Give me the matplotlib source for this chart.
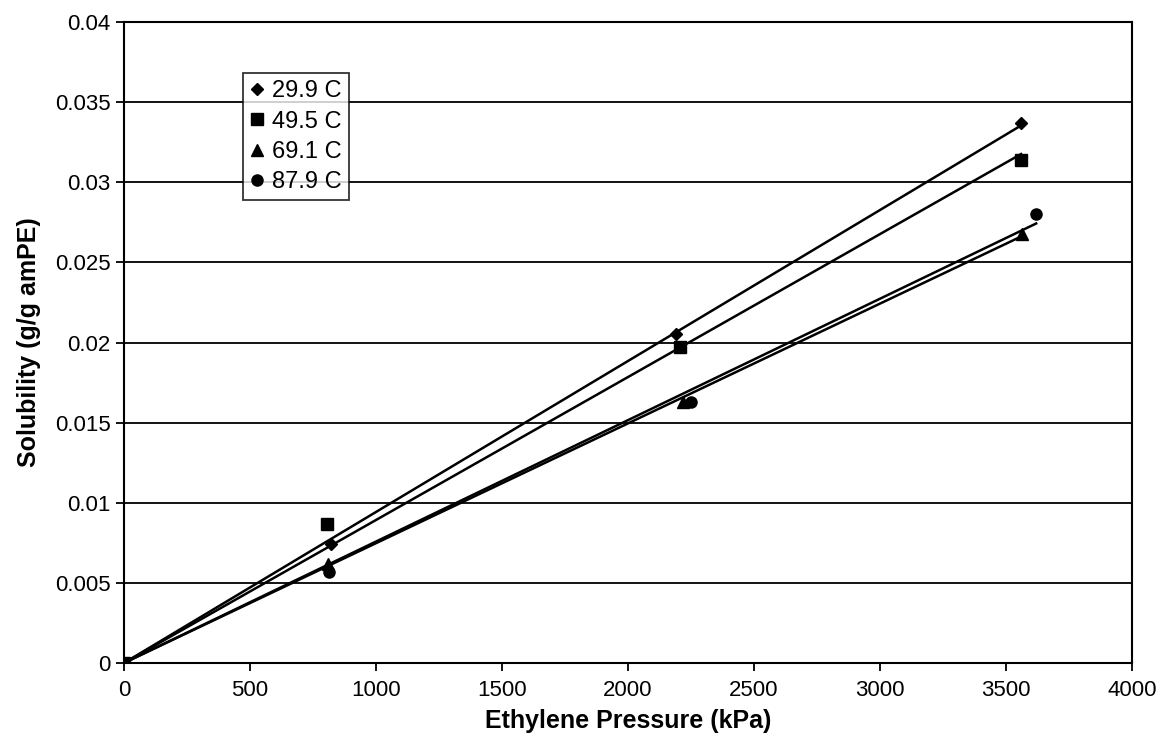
import numpy as np
import matplotlib
matplotlib.use("Agg")
import matplotlib.pyplot as plt

plt.rcParams['font.family'] = ['Liberation Sans', 'DejaVu Sans']

# solubility of ethylene in amorphous PE at four temperatures
labels = ["29.9 C", "49.5 C", "69.1 C", "87.9 C"]
markers = ["D", "s", "^", "o"]
msizes = [6, 8, 8, 8]

p_299 = [0, 820, 2190, 3560]
s_299 = [0, 0.0074, 0.0205, 0.0337]
p_495 = [0, 805, 2205, 3560]
s_495 = [0, 0.0087, 0.0197, 0.0314]
p_691 = [0, 810, 2220, 3565]
s_691 = [0, 0.0062, 0.0163, 0.0268]
p_879 = [0, 815, 2250, 3620]
s_879 = [0, 0.0057, 0.0163, 0.0280]

pressures = [p_299, p_495, p_691, p_879]
solubility = [s_299, s_495, s_691, s_879]

fig = plt.figure(figsize=(11.66, 7.54), dpi=100)
ax = fig.add_axes([0.1063, 0.1207, 0.8645, 0.8501])

for p, s, m, ms, lab in zip(pressures, solubility, markers, msizes, labels):
    p = np.asarray(p, float)
    s = np.asarray(s, float)
    ax.plot(p, s, linestyle="none", marker=m, markersize=ms, color="black",
            label=lab, zorder=3)
    # linear trend line forced through the origin
    k = np.sum(p * s) / np.sum(p * p)
    xx = np.array([0, p.max()])
    ax.plot(xx, k * xx, color="black", linewidth=1.8, zorder=2)

ax.set_xlim(0, 4000)
ax.set_ylim(0, 0.04)
ax.set_xticks(np.arange(0, 4001, 500))
ax.set_yticks(np.arange(0, 0.0401, 0.005))
ax.set_yticklabels(["0", "0.005", "0.01", "0.015", "0.02", "0.025", "0.03",
                    "0.035", "0.04"])
ax.yaxis.grid(True, color="black", linewidth=1.3)
ax.set_axisbelow(True)
for sp in ax.spines.values():
    sp.set_linewidth(1.5)
ax.tick_params(axis="both", labelsize=16, direction="out", length=6, width=1.3)
ax.tick_params(axis="x", pad=6)

ax.set_xlabel("Ethylene Pressure (kPa)", fontsize=18, fontweight="bold", labelpad=6)
ax.set_ylabel("Solubility (g/g amPE)", fontsize=18, fontweight="bold", labelpad=10)

leg = ax.legend(loc="upper left", bbox_to_anchor=(0.118, 0.920), fontsize=17,
                frameon=True, fancybox=False, edgecolor="black",
                handlelength=0.6, handletextpad=0.35, borderpad=0.3,
                labelspacing=0.35, borderaxespad=0)
leg.get_frame().set_linewidth(1.3)

fig.savefig("out.png", dpi=100, facecolor="white")
